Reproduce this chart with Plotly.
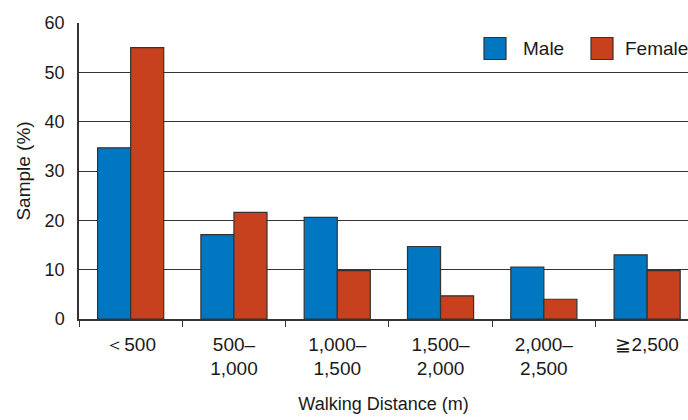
import plotly.graph_objects as go

# Walking distance categories and share of respondents (%) by sex
categories = ["＜500", "500–<br>1,000", "1,000–<br>1,500", "1,500–<br>2,000", "2,000–<br>2,500", "≧2,500"]
male = [34.7, 17.1, 20.6, 14.7, 10.5, 13.0]
female = [55.0, 21.6, 9.8, 4.7, 4.0, 9.8]
y_ticks = [0, 10, 20, 30, 40, 50, 60]

BLUE = "#0077C0"
RED = "#C7411F"
EDGE = "#333333"
FONT = "Liberation Sans, Arial, sans-serif"
TEXT = "#1a1a1a"

fig = go.Figure()
fig.add_trace(go.Bar(name="Male", x=categories, y=male, marker=dict(color=BLUE, line=dict(color=EDGE, width=1.2))))
fig.add_trace(go.Bar(name="Female", x=categories, y=female, marker=dict(color=RED, line=dict(color=EDGE, width=1.2))))

W, H = 688, 420
L, R, T, B = 79, 0, 23, 101
cat_px = 103.3
plot_w = W - L - R
x_max = -0.5 + plot_w / cat_px

fig.update_layout(
    width=W, height=H,
    margin=dict(l=L, r=R, t=T, b=B, autoexpand=False),
    paper_bgcolor="white", plot_bgcolor="white",
    barmode="group", bargap=0.36, bargroupgap=0,
    showlegend=False,
    font=dict(family=FONT, size=19, color=TEXT),
    xaxis=dict(
        type="category", range=[-0.5, x_max],
        showline=True, linecolor=EDGE, linewidth=1.5,
        ticks="outside", tickson="boundaries", ticklen=6, tickcolor=EDGE, tickwidth=1.2,
        tickfont=dict(size=19), showgrid=False, ticklabelstandoff=7,
        title=dict(text="Walking Distance (m)", font=dict(size=18), standoff=19),
    ),
    yaxis=dict(
        range=[0, 60], tickvals=y_ticks,
        showline=True, linecolor=EDGE, linewidth=1.5,
        showgrid=True, gridcolor="#333333", gridwidth=1.3,
        ticks="", tickfont=dict(size=18), ticklabelstandoff=9,
        zeroline=False,
        title=dict(text="Sample (%)", font=dict(size=19), standoff=9),
    ),
)

# Legend drawn as swatches and labels in paper coordinates
def px_x(p):
    return (p - L) / plot_w

def px_y(p):
    return (H - B - p) / (H - T - B)

legend_items = [("Male", BLUE, 484, 523), ("Female", RED, 591, 625)]
for label, color, box_left, text_left in legend_items:
    fig.add_shape(type="rect", xref="paper", yref="paper",
                  x0=px_x(box_left), x1=px_x(box_left + 22), y0=px_y(59.5), y1=px_y(37.5),
                  fillcolor=color, line=dict(color=EDGE, width=1.2))
    fig.add_annotation(xref="paper", yref="paper", x=px_x(text_left), y=px_y(48.5),
                       text=label, showarrow=False, xanchor="left", yanchor="middle",
                       xshift=-2, font=dict(size=19, family=FONT, color=TEXT))

fig.write_html("out.html")
